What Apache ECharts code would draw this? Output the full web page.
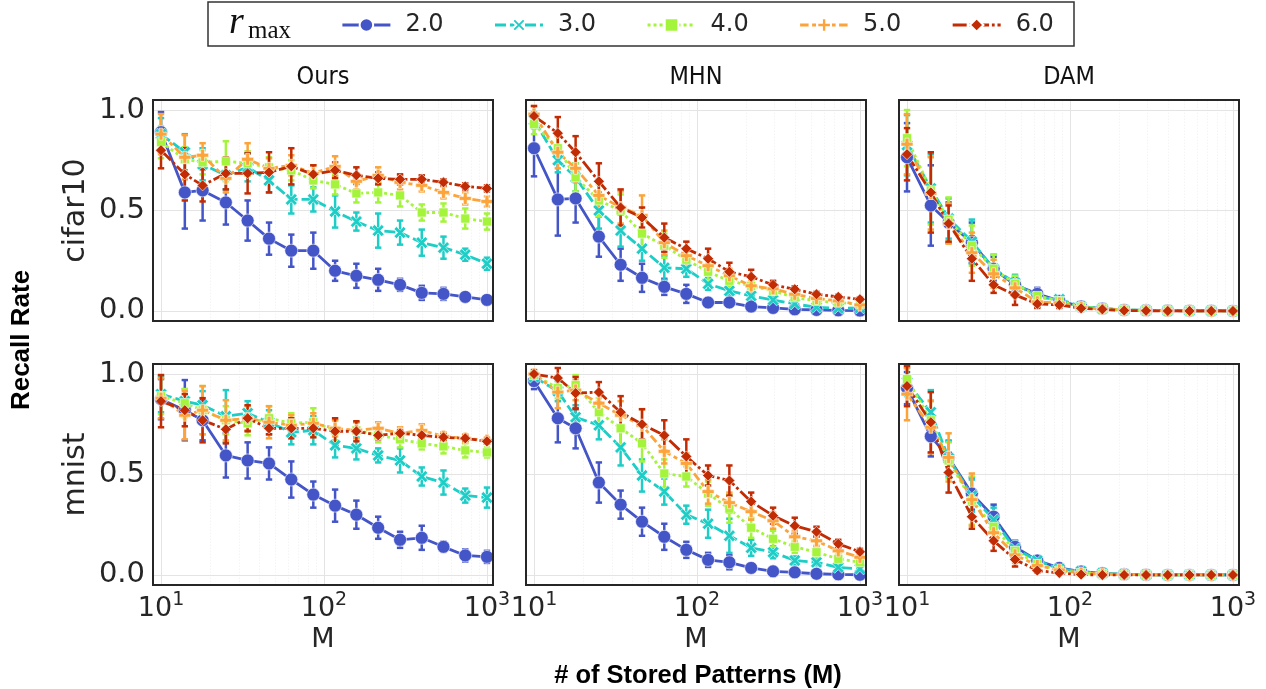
<!DOCTYPE html>
<html>
<head>
<meta charset="utf-8">
<script src="https://cdn.jsdelivr.net/npm/echarts@6/dist/echarts.min.js"></script>
<style>html,body{margin:0;padding:0;background:#fff;}#chart{width:1266px;height:689px;}</style>
</head>
<body>
<div id="chart"></div>
<script>
// ---- data ----
const M_VALUES = [10, 14, 18, 25, 34, 46, 63, 86, 117, 158, 215, 293, 398, 541, 736, 1000];
const R_MAX = ['2.0', '3.0', '4.0', '5.0', '6.0'];
const METHODS = ['Ours', 'MHN', 'DAM'];
const DATASETS = ['cifar10', 'mnist'];
const Y_TICKS = [0, 0.5, 1.0];
const X_TICKS = [10, 100, 1000];
const X_MINOR = [9, 20, 30, 40, 50, 60, 70, 80, 90, 200, 300, 400, 500, 600, 700, 800, 900];

const OURS_CIFAR10 = [
  [0.89, 0.59, 0.60, 0.54, 0.45, 0.36, 0.30, 0.30, 0.20, 0.175, 0.155, 0.13, 0.09, 0.085, 0.07, 0.055],
  [0.88, 0.79, 0.73, 0.675, 0.715, 0.65, 0.555, 0.555, 0.495, 0.445, 0.40, 0.39, 0.34, 0.315, 0.28, 0.235],
  [0.84, 0.755, 0.74, 0.745, 0.735, 0.715, 0.70, 0.65, 0.63, 0.585, 0.59, 0.575, 0.49, 0.49, 0.46, 0.445],
  [0.88, 0.765, 0.775, 0.66, 0.755, 0.71, 0.725, 0.685, 0.72, 0.645, 0.675, 0.64, 0.625, 0.59, 0.56, 0.545],
  [0.80, 0.68, 0.625, 0.685, 0.685, 0.69, 0.72, 0.68, 0.70, 0.675, 0.66, 0.655, 0.655, 0.64, 0.62, 0.61]
];
const OURS_CIFAR10_ERR = [
  [0.10, 0.18, 0.15, 0.11, 0.10, 0.08, 0.08, 0.09, 0.05, 0.06, 0.055, 0.03, 0.035, 0.03, 0.015, 0.012],
  [0.08, 0.09, 0.08, 0.07, 0.07, 0.06, 0.07, 0.06, 0.08, 0.045, 0.085, 0.06, 0.065, 0.055, 0.03, 0.03],
  [0.08, 0.06, 0.06, 0.10, 0.06, 0.05, 0.05, 0.04, 0.05, 0.045, 0.05, 0.055, 0.04, 0.045, 0.05, 0.04],
  [0.10, 0.11, 0.06, 0.07, 0.08, 0.05, 0.05, 0.04, 0.05, 0.04, 0.04, 0.035, 0.03, 0.03, 0.03, 0.025],
  [0.09, 0.13, 0.08, 0.08, 0.10, 0.10, 0.09, 0.045, 0.04, 0.04, 0.03, 0.025, 0.02, 0.015, 0.015, 0.015]
];
const MHN_CIFAR10 = [
  [0.81, 0.555, 0.56, 0.37, 0.23, 0.165, 0.12, 0.085, 0.042, 0.042, 0.022, 0.015, 0.008, 0.005, 0.003, 0.002],
  [0.95, 0.75, 0.665, 0.50, 0.40, 0.31, 0.215, 0.21, 0.135, 0.10, 0.075, 0.055, 0.035, 0.018, 0.013, 0.015],
  [0.93, 0.81, 0.665, 0.55, 0.50, 0.385, 0.325, 0.255, 0.195, 0.15, 0.125, 0.10, 0.067, 0.05, 0.042, 0.033],
  [0.98, 0.79, 0.71, 0.575, 0.515, 0.475, 0.34, 0.275, 0.225, 0.175, 0.125, 0.11, 0.083, 0.062, 0.05, 0.03],
  [0.97, 0.885, 0.79, 0.645, 0.515, 0.465, 0.365, 0.31, 0.26, 0.195, 0.17, 0.13, 0.108, 0.083, 0.07, 0.058]
];
const MHN_CIFAR10_ERR = [
  [0.14, 0.18, 0.12, 0.10, 0.08, 0.07, 0.04, 0.045, 0.015, 0.015, 0.01, 0.01, 0.008, 0.005, 0.004, 0.003],
  [0.04, 0.06, 0.07, 0.09, 0.08, 0.06, 0.06, 0.04, 0.03, 0.025, 0.02, 0.015, 0.012, 0.01, 0.008, 0.008],
  [0.05, 0.07, 0.07, 0.08, 0.08, 0.07, 0.06, 0.04, 0.04, 0.03, 0.025, 0.02, 0.015, 0.012, 0.01, 0.01],
  [0.04, 0.08, 0.07, 0.08, 0.08, 0.10, 0.06, 0.04, 0.04, 0.035, 0.03, 0.02, 0.015, 0.012, 0.01, 0.01],
  [0.05, 0.08, 0.08, 0.09, 0.09, 0.05, 0.07, 0.035, 0.05, 0.045, 0.035, 0.02, 0.015, 0.012, 0.01, 0.01]
];
const DAM_CIFAR10 = [
  [0.765, 0.525, 0.44, 0.34, 0.21, 0.13, 0.085, 0.05, 0.022, 0.012, 0.005, 0.003, 0.002, 0.001, 0.001, 0.0],
  [0.825, 0.61, 0.46, 0.345, 0.21, 0.14, 0.068, 0.058, 0.022, 0.012, 0.005, 0.003, 0.002, 0.001, 0.001, 0.0],
  [0.86, 0.60, 0.455, 0.325, 0.21, 0.135, 0.075, 0.05, 0.02, 0.012, 0.005, 0.003, 0.002, 0.001, 0.001, 0.0],
  [0.83, 0.585, 0.435, 0.29, 0.185, 0.115, 0.045, 0.04, 0.018, 0.01, 0.004, 0.002, 0.001, 0.001, 0.0, 0.0],
  [0.78, 0.59, 0.435, 0.26, 0.13, 0.08, 0.035, 0.03, 0.013, 0.008, 0.002, 0.001, 0.0, 0.0, 0.0, 0.0]
];
const DAM_CIFAR10_ERR = [
  [0.17, 0.20, 0.10, 0.10, 0.06, 0.04, 0.03, 0.02, 0.01, 0.006, 0.004, 0.003, 0.002, 0.001, 0.001, 0.0],
  [0.15, 0.17, 0.10, 0.11, 0.07, 0.04, 0.025, 0.015, 0.01, 0.006, 0.004, 0.003, 0.002, 0.001, 0.001, 0.0],
  [0.14, 0.17, 0.11, 0.10, 0.07, 0.04, 0.025, 0.015, 0.01, 0.006, 0.004, 0.003, 0.002, 0.001, 0.001, 0.0],
  [0.15, 0.18, 0.10, 0.10, 0.07, 0.04, 0.025, 0.015, 0.01, 0.006, 0.004, 0.003, 0.002, 0.001, 0.0, 0.0],
  [0.13, 0.20, 0.09, 0.11, 0.04, 0.05, 0.02, 0.015, 0.008, 0.005, 0.002, 0.001, 0.0, 0.0, 0.0, 0.0]
];
const OURS_MNIST = [
  [0.875, 0.82, 0.77, 0.595, 0.57, 0.555, 0.475, 0.40, 0.345, 0.30, 0.235, 0.175, 0.185, 0.14, 0.097, 0.09],
  [0.90, 0.865, 0.845, 0.79, 0.805, 0.76, 0.71, 0.72, 0.645, 0.63, 0.595, 0.57, 0.49, 0.46, 0.395, 0.385],
  [0.89, 0.855, 0.82, 0.77, 0.755, 0.78, 0.755, 0.76, 0.72, 0.72, 0.695, 0.675, 0.655, 0.64, 0.62, 0.61],
  [0.88, 0.795, 0.82, 0.77, 0.78, 0.76, 0.745, 0.755, 0.73, 0.72, 0.73, 0.705, 0.72, 0.69, 0.68, 0.67],
  [0.865, 0.82, 0.77, 0.725, 0.78, 0.73, 0.73, 0.73, 0.715, 0.715, 0.695, 0.705, 0.695, 0.685, 0.68, 0.665]
];
const OURS_MNIST_ERR = [
  [0.10, 0.15, 0.10, 0.11, 0.09, 0.08, 0.09, 0.065, 0.08, 0.07, 0.055, 0.04, 0.06, 0.025, 0.03, 0.03],
  [0.09, 0.06, 0.07, 0.13, 0.06, 0.06, 0.06, 0.07, 0.06, 0.055, 0.035, 0.06, 0.045, 0.06, 0.035, 0.05],
  [0.09, 0.07, 0.12, 0.07, 0.06, 0.06, 0.05, 0.07, 0.05, 0.04, 0.035, 0.04, 0.03, 0.035, 0.035, 0.025],
  [0.10, 0.12, 0.12, 0.10, 0.06, 0.08, 0.05, 0.05, 0.04, 0.04, 0.03, 0.03, 0.03, 0.02, 0.02, 0.015],
  [0.13, 0.08, 0.11, 0.07, 0.065, 0.03, 0.05, 0.045, 0.065, 0.05, 0.02, 0.015, 0.015, 0.015, 0.012, 0.012]
];
const MHN_MNIST = [
  [0.965, 0.78, 0.73, 0.46, 0.35, 0.265, 0.19, 0.125, 0.075, 0.063, 0.035, 0.018, 0.013, 0.006, 0.003, 0.001],
  [0.985, 0.915, 0.785, 0.745, 0.635, 0.495, 0.415, 0.30, 0.255, 0.195, 0.135, 0.113, 0.072, 0.063, 0.038, 0.03],
  [0.995, 0.93, 0.945, 0.81, 0.73, 0.655, 0.505, 0.49, 0.405, 0.33, 0.235, 0.18, 0.14, 0.113, 0.08, 0.063],
  [1.0, 0.91, 0.92, 0.855, 0.795, 0.745, 0.615, 0.555, 0.415, 0.36, 0.315, 0.27, 0.19, 0.17, 0.12, 0.088],
  [1.0, 0.98, 0.905, 0.91, 0.81, 0.75, 0.695, 0.59, 0.495, 0.47, 0.365, 0.295, 0.245, 0.215, 0.155, 0.115]
];
const MHN_MNIST_ERR = [
  [0.04, 0.12, 0.10, 0.10, 0.07, 0.07, 0.065, 0.04, 0.035, 0.035, 0.015, 0.01, 0.008, 0.006, 0.004, 0.002],
  [0.03, 0.05, 0.06, 0.07, 0.09, 0.08, 0.065, 0.045, 0.07, 0.085, 0.04, 0.03, 0.02, 0.015, 0.012, 0.01],
  [0.02, 0.05, 0.05, 0.07, 0.08, 0.09, 0.07, 0.05, 0.06, 0.07, 0.05, 0.04, 0.03, 0.025, 0.02, 0.015],
  [0.01, 0.08, 0.05, 0.05, 0.07, 0.08, 0.06, 0.05, 0.06, 0.05, 0.04, 0.04, 0.03, 0.025, 0.02, 0.015],
  [0.02, 0.05, 0.08, 0.05, 0.08, 0.075, 0.075, 0.085, 0.05, 0.075, 0.045, 0.04, 0.04, 0.025, 0.02, 0.015]
];
const DAM_MNIST = [
  [0.93, 0.69, 0.585, 0.405, 0.29, 0.14, 0.072, 0.035, 0.017, 0.008, 0.003, 0.001, 0.0, 0.0, 0.0, 0.0],
  [0.96, 0.81, 0.58, 0.395, 0.275, 0.13, 0.072, 0.03, 0.018, 0.008, 0.003, 0.001, 0.0, 0.0, 0.0, 0.0],
  [0.975, 0.77, 0.57, 0.37, 0.24, 0.12, 0.055, 0.022, 0.01, 0.005, 0.002, 0.001, 0.0, 0.0, 0.0, 0.0],
  [0.90, 0.735, 0.585, 0.375, 0.21, 0.10, 0.047, 0.025, 0.01, 0.005, 0.002, 0.001, 0.0, 0.0, 0.0, 0.0],
  [0.94, 0.76, 0.51, 0.29, 0.17, 0.077, 0.022, 0.01, 0.002, 0.0, 0.0, 0.0, 0.0, 0.0, 0.0, 0.0]
];
const DAM_MNIST_ERR = [
  [0.08, 0.10, 0.08, 0.08, 0.06, 0.03, 0.02, 0.01, 0.006, 0.004, 0.002, 0.001, 0.0, 0.0, 0.0, 0.0],
  [0.07, 0.11, 0.09, 0.08, 0.06, 0.04, 0.02, 0.01, 0.006, 0.004, 0.002, 0.001, 0.0, 0.0, 0.0, 0.0],
  [0.07, 0.10, 0.09, 0.12, 0.06, 0.04, 0.02, 0.01, 0.006, 0.004, 0.002, 0.001, 0.0, 0.0, 0.0, 0.0],
  [0.13, 0.13, 0.12, 0.13, 0.05, 0.04, 0.02, 0.01, 0.006, 0.004, 0.002, 0.001, 0.0, 0.0, 0.0, 0.0],
  [0.10, 0.15, 0.10, 0.06, 0.05, 0.035, 0.01, 0.005, 0.002, 0.0, 0.0, 0.0, 0.0, 0.0, 0.0, 0.0]
];

const PANELS = [
  [OURS_CIFAR10, OURS_CIFAR10_ERR], [MHN_CIFAR10, MHN_CIFAR10_ERR], [DAM_CIFAR10, DAM_CIFAR10_ERR],
  [OURS_MNIST, OURS_MNIST_ERR], [MHN_MNIST, MHN_MNIST_ERR], [DAM_MNIST, DAM_MNIST_ERR]
];

// ---- styles ----
const COLORS = ['#4455c8', '#1dcdc6', '#a3f43b', '#fca43a', '#c22c05'];
const LW = 2.8;
const DASHES = ['solid', [11, 4], [3, 3], [8.5, 3.5, 4, 3.5], [14, 2.8, 2.8, 2.8]];
const SYMBOLS = [
  'circle',
  'path://M0,2 L2,0 L5,3 L8,0 L10,2 L7,5 L10,8 L8,10 L5,7 L2,10 L0,8 L3,5 Z',
  'rect',
  'path://M3.4,0 H6.6 V3.4 H10 V6.6 H6.6 V10 H3.4 V6.6 H0 V3.4 H3.4 Z',
  'diamond'
];
const SYMBOL_SIZES = [13, 12, 9, 12, 11];

const GRID_LEFT = [153, 526, 899];
const GRID_TOP = [100, 364];
const GRID_W = 340, GRID_H = 221;
const FONT = "'DejaVu Sans', sans-serif";
const TXT = '#262626';

const grids = [], xAxes = [], yAxes = [], series = [];

function errRender(color) {
  return function (params, api) {
    const x = api.value(0), y = api.value(1), e = api.value(2);
    const p1 = api.coord([x, y + e]), p2 = api.coord([x, y - e]);
    const cw = 3.2;
    const style = { stroke: color, lineWidth: 2.5 };
    return {
      type: 'group', children: [
        { type: 'line', shape: { x1: p1[0], y1: p1[1], x2: p2[0], y2: p2[1] }, style: style },
        { type: 'line', shape: { x1: p1[0] - cw, y1: p1[1], x2: p1[0] + cw, y2: p1[1] }, style: style },
        { type: 'line', shape: { x1: p2[0] - cw, y1: p2[1], x2: p2[0] + cw, y2: p2[1] }, style: style }
      ]
    };
  };
}

const graphics = [];

for (let r = 0; r < 2; r++) {
  for (let c = 0; c < 3; c++) {
    const g = r * 3 + c;
    grids.push({
      left: GRID_LEFT[c], top: GRID_TOP[r], width: GRID_W, height: GRID_H,
      show: true, borderWidth: 0, backgroundColor: '#fff', containLabel: false
    });
    // frame drawn above the data, like matplotlib spines
    graphics.push({
      type: 'rect', shape: { x: GRID_LEFT[c], y: GRID_TOP[r], width: GRID_W, height: GRID_H },
      style: { fill: 'none', stroke: '#262626', lineWidth: 2 }, z: 50, silent: true
    });
    xAxes.push({
      gridIndex: g, type: 'log', logBase: 10, min: 8.93, max: 1089,
      axisLine: { show: false }, axisTick: { show: false }, splitLine: { show: false },
      axisLabel: {
        show: r === 1, customValues: X_TICKS, margin: 6,
        formatter: function (v) { return '{b|10}{s|' + Math.round(Math.log10(v)) + '}'; },
        rich: {
          b: { fontFamily: FONT, fontSize: 27, color: TXT, lineHeight: 31, verticalAlign: 'bottom' },
          s: { fontFamily: FONT, fontSize: 19, color: TXT, verticalAlign: 'top', lineHeight: 19 }
        }
      }
    });
    yAxes.push({
      gridIndex: g, type: 'value', min: -0.05, max: 1.05,
      axisLine: { show: false }, axisTick: { show: false }, splitLine: { show: false },
      axisLabel: {
        show: c === 0, customValues: Y_TICKS, margin: 8,
        formatter: function (v) { return v.toFixed(1); },
        fontFamily: FONT, fontSize: 29, color: TXT
      }
    });
    const data = PANELS[g][0], err = PANELS[g][1];
    for (let k = 0; k < 5; k++) {
      const s = {
        name: R_MAX[k], type: 'line', xAxisIndex: g, yAxisIndex: g,
        data: M_VALUES.map((m, i) => [m, data[k][i]]),
        symbol: SYMBOLS[k], symbolSize: SYMBOL_SIZES[k], showSymbol: true,
        itemStyle: { color: COLORS[k], borderColor: '#ffffff', borderWidth: 0.6 },
        lineStyle: { color: COLORS[k], width: LW, type: DASHES[k] },
        animation: false, silent: true, z: 3
      };
      if (k === 0) {
        const mlData = [];
        X_MINOR.forEach(v => mlData.push({ xAxis: v, lineStyle: { color: '#f1f1f1', width: 0.8, type: [1.5, 1.5] } }));
        X_TICKS.forEach(v => mlData.push({ xAxis: v, lineStyle: { color: '#e4e4e4', width: 1, type: 'solid' } }));
        Y_TICKS.forEach(v => mlData.push({ yAxis: v, lineStyle: { color: '#e4e4e4', width: 1, type: 'solid' } }));
        s.markLine = { silent: true, symbol: ['none', 'none'], label: { show: false }, z: 1, animation: false, data: mlData };
      }
      series.push(s);
      series.push({
        name: 'err' + R_MAX[k], type: 'custom', xAxisIndex: g, yAxisIndex: g, clip: true,
        data: M_VALUES.map((m, i) => [m, data[k][i], err[k][i]]),
        encode: { x: 0, y: 1 },
        renderItem: errRender(COLORS[k]), animation: false, silent: true, z: 3
      });
    }
  }
}

graphics.push(
  { type: 'rect', shape: { x: 208, y: 2, width: 866, height: 44 }, style: { fill: 'none', stroke: '#333', lineWidth: 1.5 }, z: 10 },
  { type: 'text', x: 229, y: 4, style: { text: 'r', font: "italic 38px 'Liberation Serif', serif", fill: '#111' }, z: 10 },
  { type: 'text', x: 248, y: 19, style: { text: 'max', font: "25px 'Liberation Serif', serif", fill: '#111' }, z: 10 }
);
METHODS.forEach((t, c) => {
  graphics.push({ type: 'text', x: GRID_LEFT[c] + GRID_W / 2, y: 77, style: { text: t, font: "25px 'DejaVu Sans Condensed', 'DejaVu Sans', sans-serif", fill: '#111', align: 'center', verticalAlign: 'middle' } });
  graphics.push({ type: 'text', x: GRID_LEFT[c] + GRID_W / 2, y: 640, style: { text: 'M', font: "27px 'DejaVu Sans', sans-serif", fill: TXT, align: 'center', verticalAlign: 'middle' } });
});
DATASETS.forEach((t, r) => {
  graphics.push({ type: 'text', x: 76, y: GRID_TOP[r] + GRID_H / 2, rotation: Math.PI / 2, style: { text: t, font: "30px 'DejaVu Sans', sans-serif", fill: TXT, align: 'center', verticalAlign: 'middle' } });
});
graphics.push({ type: 'text', x: 22, y: 340, rotation: Math.PI / 2, style: { text: 'Recall Rate', font: "bold 26px 'Liberation Sans', Arial, sans-serif", fill: '#000', align: 'center', verticalAlign: 'middle' } });
graphics.push({ type: 'text', x: 698, y: 676, style: { text: '# of Stored Patterns (M)', font: "bold 25.5px 'Liberation Sans', Arial, sans-serif", fill: '#000', align: 'center', verticalAlign: 'middle' } });

const chart = echarts.init(document.getElementById('chart'), null, { renderer: 'canvas', width: 1266, height: 689 });
chart.setOption({
  backgroundColor: '#ffffff',
  animation: false,
  grid: grids,
  xAxis: xAxes,
  yAxis: yAxes,
  legend: {
    data: R_MAX, left: 336, top: 8, itemWidth: 48, itemHeight: 17, itemGap: 50,
    lineStyle: { width: 2.8 },
    textStyle: { fontFamily: FONT, fontSize: 24, color: TXT, padding: [3, 0, 0, 10] },
    selectedMode: false
  },
  graphic: graphics,
  series: series
});
</script>
</body>
</html>
